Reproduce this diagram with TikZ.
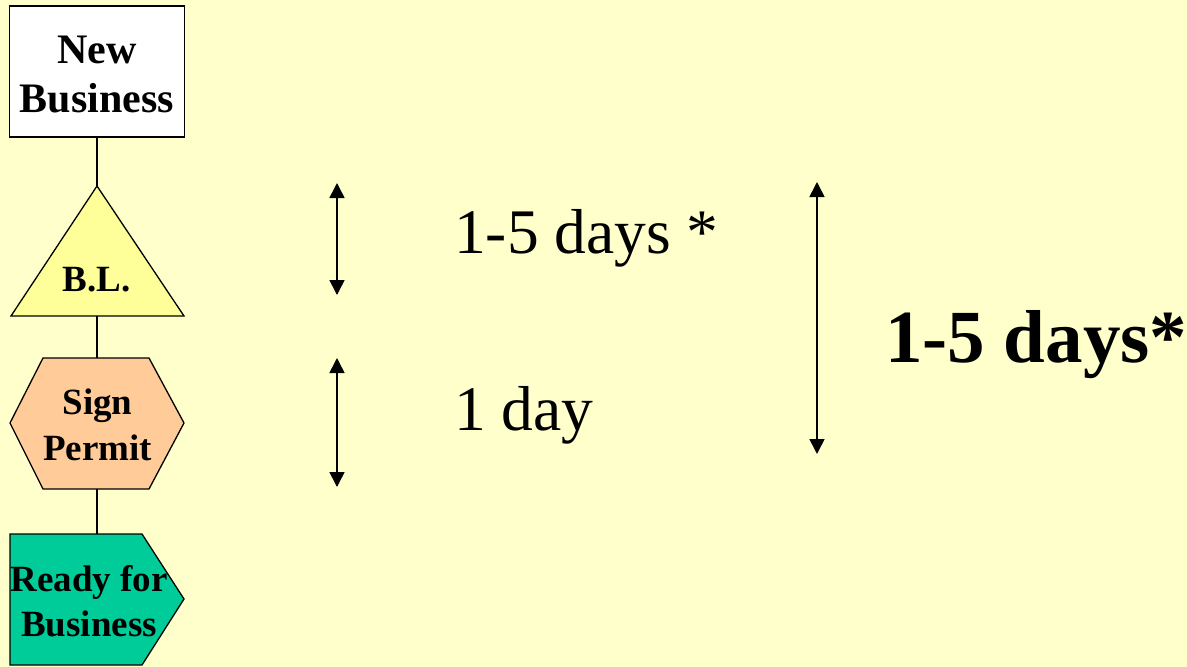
\documentclass[tikz,border=0pt]{standalone}
\usepackage{fontspec}
\setmainfont{Liberation Serif}
\usetikzlibrary{arrows.meta}
\definecolor{bgc}{HTML}{FFFFCC}
\definecolor{tric}{HTML}{FFFF99}
\definecolor{hexc}{HTML}{FFCC99}
\definecolor{penc}{HTML}{00CC99}
\begin{document}
\begin{tikzpicture}[x=1pt,y=-1pt,
  shapeline/.style={draw=black,line width=1.3pt,line join=miter},
  conn/.style={draw=black,line width=1.3pt},
  dimarrow/.style={draw=black,line width=1.6pt,{Triangle[width=15pt,length=15pt]}-{Triangle[width=15pt,length=15pt]}},
  boxtext/.style={font=\bfseries\fontsize{37}{46}\selectfont,align=center,inner sep=0pt},
  bigtext/.style={font=\fontsize{63.5}{70}\selectfont,anchor=base west,inner sep=0pt}]
\fill[bgc] (0,0) rectangle (1187,667);
\useasboundingbox (0,0) rectangle (1187,667);
% New Business box
\node[shapeline,fill=white,minimum width=175pt,minimum height=131pt,inner sep=0pt] (nb) at (97,71.5) {};
\node[boxtext,font=\bfseries\fontsize{42}{49}\selectfont] (nbt) at (97,75) {New\\Business};
% triangle
\draw[shapeline,fill=tric] (97,186) coordinate (bltop) -- (184,316) -- (11,316) -- cycle;
\coordinate (blbot) at (97,316);
\node[boxtext,anchor=base] (bl) at (96.5,291) {B.L.};
% hexagon
\draw[shapeline,fill=hexc] (43,358) -- (149,358) -- (184,423) -- (149,489) -- (43,489) -- (10,423) -- cycle;
\coordinate (sptop) at (97,358);
\coordinate (spbot) at (97,489);
\node[boxtext] (sp) at (97.5,425) {Sign\\Permit};
% pentagon
\draw[shapeline,fill=penc] (10,534) -- (142,534) -- (184,599) -- (142,665) -- (10,665) -- cycle;
\coordinate (rbtop) at (97,534);
\node[boxtext,font=\bfseries\fontsize{37}{45}\selectfont] (rb) at (89,601) {Ready for\\Business};
% connectors
\draw[conn] (nb.south) -- (bltop);
\draw[conn] (blbot) -- (sptop);
\draw[conn] (spbot) -- (rbtop);
% dimension arrows
\coordinate (a1t) at (337,183);
\coordinate (a1b) at (337,295);
\coordinate (a2t) at (337,358);
\coordinate (a2b) at (337,487);
\coordinate (a3t) at (817,182);
\coordinate (a3b) at (817,454);
\draw[dimarrow] (a1t) -- (a1b);
\draw[dimarrow] (a2t) -- (a2b);
\draw[dimarrow] (a3t) -- (a3b);
% labels
\node[bigtext] (t1) at (454,253) {1-5 days *};
\node[bigtext] (t2) at (454,430) {1 day};
\node[bigtext,font=\bfseries\fontsize{75}{80}\selectfont] (t3) at (885,362) {1-5 days*};
\end{tikzpicture}
\end{document}
